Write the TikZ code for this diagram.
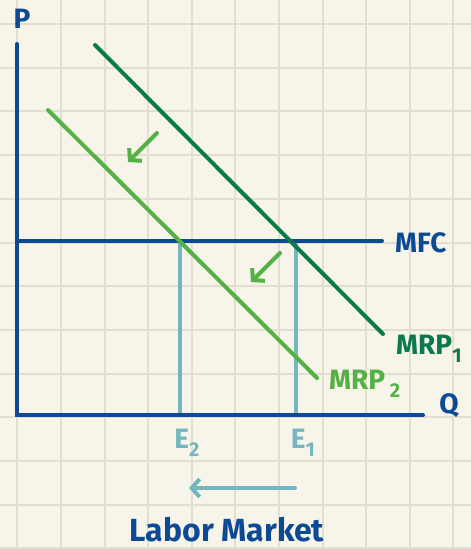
\documentclass[tikz,border=0pt]{standalone}
\usepackage{fontspec}
\setmainfont{Fira Sans}
\usetikzlibrary{arrows.meta}
\definecolor{bgc}{HTML}{F7F5EA}
\definecolor{gridc}{HTML}{E2DFD2}
\definecolor{navy}{HTML}{0D4A96}
\definecolor{dgreen}{HTML}{0B7A4A}
\definecolor{lgreen}{HTML}{55B045}
\definecolor{teal}{HTML}{74B7BF}
\newcommand{\lowsub}[1]{\raisebox{-8pt}{\fontsize{20}{22}\selectfont #1}}
\tikzset{
  axisline/.style={navy, line width=4pt, line cap=round},
  curve1/.style={dgreen, line width=4pt, line cap=round},
  curve2/.style={lgreen, line width=4pt, line cap=round},
  dropline/.style={teal, line width=4pt},
  shiftarrow/.style={lgreen, line width=4pt, line cap=round, -{Straight Barb[length=8pt,width=18pt,line width=4pt]}},
  movearrow/.style={teal, line width=4pt, line cap=round, -{Straight Barb[length=8pt,width=18pt,line width=4pt]}},
  lbl/.style={font=\fontsize{28}{30}\selectfont\bfseries, inner sep=0pt},
}
\begin{document}
\begin{tikzpicture}[x=1pt,y=-1pt]
\fill[bgc] (0,0) rectangle (471,549);
\useasboundingbox (0,0) rectangle (471,549);
% grid
\foreach \i in {0,...,10} {\draw[gridc, line width=2pt] ({17.4+43.6*\i},0) -- ({17.4+43.6*\i},549);}
\foreach \j in {0,...,12} {\draw[gridc, line width=2pt] (0,{24+43.7*\j}) -- (471,{24+43.7*\j});}
% coordinates
\coordinate (ytop) at (17,44);
\coordinate (orig) at (17,415);
\coordinate (xend) at (423,415);
\coordinate (mfcL) at (17,241);
\coordinate (mfcR) at (382,241);
\coordinate (m1a) at (95,45);
\coordinate (m1b) at (383,334);
\coordinate (m2a) at (48,110);
\coordinate (m2b) at (317,378);
\coordinate (e2top) at (180,241);
\coordinate (e2bot) at (180,415);
\coordinate (e1top) at (296,241);
\coordinate (e1bot) at (296,415);
\coordinate (a1s) at (157,133);
\coordinate (a1e) at (128,162);
\coordinate (a2s) at (280,253);
\coordinate (a2e) at (251,282);
\coordinate (a3s) at (295,488);
\coordinate (a3e) at (189,488);
% lines
\draw[dropline] (e2top) -- (e2bot);
\draw[dropline] (e1top) -- (e1bot);
\draw[axisline] (mfcL) -- (mfcR);
\draw[curve1] (m1a) -- (m1b);
\draw[curve2] (m2a) -- (m2b);
\draw[axisline] (ytop) -- (orig) -- (xend);
\draw[shiftarrow] (a1s) -- (a1e);
\draw[shiftarrow] (a2s) -- (a2e);
\draw[movearrow] (a3s) -- (a3e);
% labels
\node[lbl, text=navy] (P) at (22,19) {P};
\node[lbl, text=navy] (Q) at (449,406) {Q};
\node[lbl, text=navy, anchor=west] (MFC) at (395,243) {MFC};
\node[lbl, text=dgreen, anchor=west] (MRP1) at (396,349) {MRP\lowsub{1}};
\node[lbl, text=lgreen, anchor=west] (MRP2) at (329,384) {MRP\,\lowsub{2}};
\node[lbl, text=teal] (E2) at (187,443) {E\lowsub{2}};
\node[lbl, text=teal] (E1) at (303,443) {E\lowsub{1}};
\node[font=\fontsize{32}{34}\selectfont\bfseries, text=navy, inner sep=0pt] (LM) at (227,530) {Labor Market};
\end{tikzpicture}
\end{document}
